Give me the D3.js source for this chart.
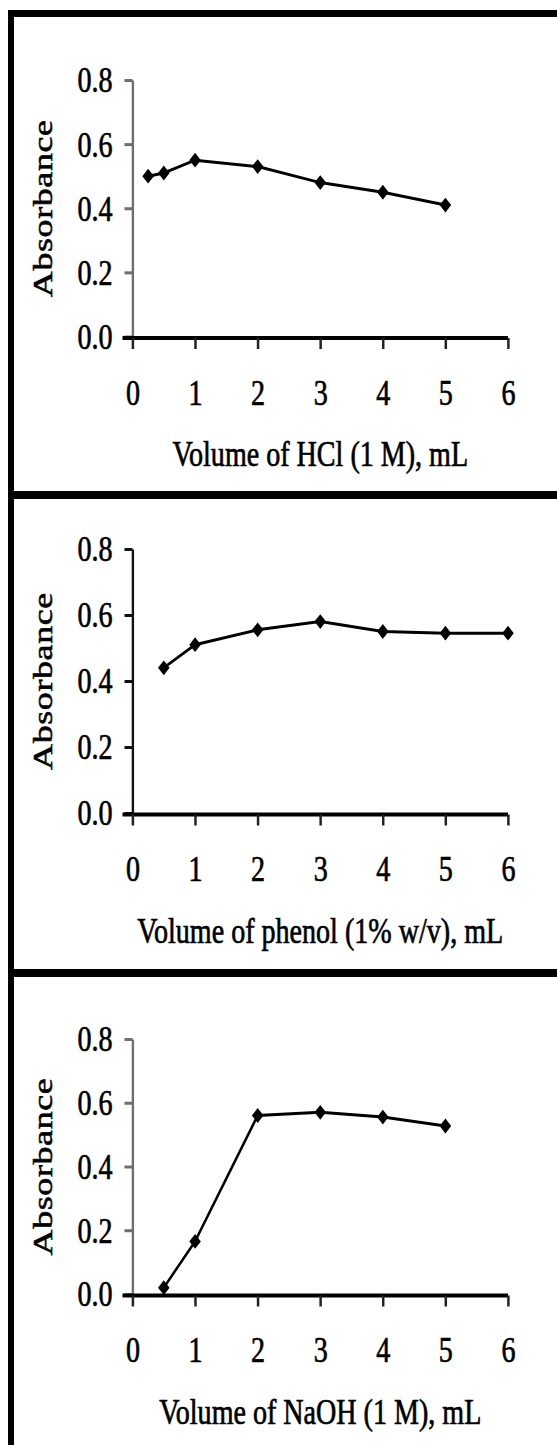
<!DOCTYPE html>
<html>
<head>
<meta charset="utf-8">
<script src="https://cdn.jsdelivr.net/npm/d3@7"></script>
<style>
body { margin: 0; background: #fff; }
text { font-family: "Liberation Serif", "Times New Roman", serif; fill: #000; stroke: #000; stroke-width: 0.7px; }
</style>
</head>
<body>
<div id="chart"></div>
<script>
// Data
const hclVolume = [0.25, 0.5, 1, 2, 3, 4, 5]
const hclAbs = [0.50, 0.51, 0.55, 0.53, 0.48, 0.45, 0.41]
const phenolVolume = [0.5, 1, 2, 3, 4, 5, 6]
const phenolAbs = [0.44, 0.51, 0.555, 0.58, 0.55, 0.545, 0.545]
const naohVolume = [0.5, 1, 2, 3, 4, 5]
const naohAbs = [0.02, 0.165, 0.56, 0.57, 0.555, 0.527]

const xTicks = [0, 1, 2, 3, 4, 5, 6]
const yTicks = [0, 0.2, 0.4, 0.6, 0.8]
const xTitles = ['Volume of HCl (1 M), mL', 'Volume of phenol (1% w/v), mL', 'Volume of NaOH (1 M), mL']
const yTitle = 'Absorbance'

const series = [
    { x: hclVolume, y: hclAbs },
    { x: phenolVolume, y: phenolAbs },
    { x: naohVolume, y: naohAbs }
]

// Canvas (the original picture is squeezed horizontally)
const W = 557, H = 1445
const SX = 0.78
const ux = px => px / SX

// Panel placement: y of the 0.8 tick and of the 0.0 line
const panels = [
    { top: 80, bottom: 336.5, axisTone: '#6e6e6e' },
    { top: 549, bottom: 813, axisTone: '#111' },
    { top: 1039, bottom: 1294, axisTone: '#6e6e6e' }
]
const xLeft = 132.5, xRight = 508

const svg = d3.select('#chart')
    .append('svg')
    .attr('width', W)
    .attr('height', H)

svg.append('rect').attr('width', W).attr('height', H).attr('fill', '#fff')

// Frame lines
svg.append('rect').attr('x', 8).attr('y', 10).attr('width', W - 8).attr('height', 7).attr('fill', '#000')
svg.append('rect').attr('x', 8).attr('y', 491).attr('width', W - 8).attr('height', 8).attr('fill', '#000')
svg.append('rect').attr('x', 8).attr('y', 969).attr('width', W - 8).attr('height', 8).attr('fill', '#000')
svg.append('rect').attr('x', 8).attr('y', 10).attr('width', 6).attr('height', H - 10).attr('fill', '#000')

const root = svg.append('g').attr('transform', `scale(${SX},1)`)

const diamond = {
    draw(ctx, size) {
        const r = Math.sqrt(size / 2)
        ctx.moveTo(0, -r)
        ctx.lineTo(r, 0)
        ctx.lineTo(0, r)
        ctx.lineTo(-r, 0)
        ctx.closePath()
    }
}

panels.forEach((p, i) => {
    const g = root.append('g')
    const s = series[i]
    const data = s.x.map((v, k) => ({ x: v, y: s.y[k] }))

    const xScale = d3.scaleLinear().domain([0, 6]).range([ux(xLeft), ux(xRight)])
    const yScale = d3.scaleLinear().domain([0, 0.8]).range([p.bottom, p.top])

    // Y axis
    const yAxis = d3.axisLeft(yScale)
        .tickValues(yTicks)
        .tickSize(ux(8))
        .tickSizeOuter(0)
        .tickPadding(ux(12))
        .tickFormat(d3.format('.1f'))
    const yg = g.append('g')
        .attr('transform', `translate(${ux(xLeft)},0)`)
        .call(yAxis)
    yg.select('.domain').attr('stroke', p.axisTone).attr('stroke-width', 3)
    yg.selectAll('.tick line').attr('stroke', p.axisTone).attr('stroke-width', 3)
    yg.selectAll('.tick text')
        .attr('font-size', 36)
        .attr('font-family', '"Liberation Serif", "Times New Roman", serif')
        .attr('fill', '#000')
        .attr('dy', '0.33em')

    // X axis
    const xAxis = d3.axisBottom(xScale)
        .tickValues(xTicks)
        .tickSize(11)
        .tickSizeOuter(0)
        .tickPadding(0)
        .tickFormat(d3.format('d'))
    const xg = g.append('g')
        .attr('transform', `translate(0,${p.bottom + 1.5})`)
        .call(xAxis)
    xg.select('.domain')
        .attr('d', `M${ux(xLeft - 10)},0H${ux(xRight)}`)
        .attr('stroke', '#000').attr('stroke-width', 4)
    xg.selectAll('.tick line').attr('stroke', '#222').attr('stroke-width', ux(2.5))
    xg.selectAll('.tick text')
        .attr('font-size', 36)
        .attr('font-family', '"Liberation Serif", "Times New Roman", serif')
        .attr('fill', '#000')
        .attr('y', 67)
        .attr('dy', 0)

    // Titles
    g.append('text')
        .attr('x', (xScale(0) + xScale(6)) / 2)
        .attr('y', p.bottom + 130)
        .attr('text-anchor', 'middle')
        .attr('font-size', 36)
        .text(xTitles[i])

    g.append('text')
        .attr('transform', `translate(${ux(51.5)},${(p.top + p.bottom) / 2}) rotate(-90)`)
        .attr('text-anchor', 'middle')
        .attr('font-size', 36)
        .attr('letter-spacing', 0.6)
        .text(yTitle)

    // Line and markers
    const line = d3.line().x(d => xScale(d.x)).y(d => yScale(d.y))
    g.append('path')
        .datum(data)
        .attr('d', line)
        .attr('fill', 'none')
        .attr('stroke', '#000')
        .attr('stroke-width', 3)

    g.selectAll('.mark')
        .data(data).enter()
        .append('path')
        .attr('class', 'mark')
        .attr('transform', d => `translate(${xScale(d.x)},${yScale(d.y)})`)
        .attr('d', d3.symbol(diamond, 110))
        .attr('fill', '#000')
})
</script>
</body>
</html>
